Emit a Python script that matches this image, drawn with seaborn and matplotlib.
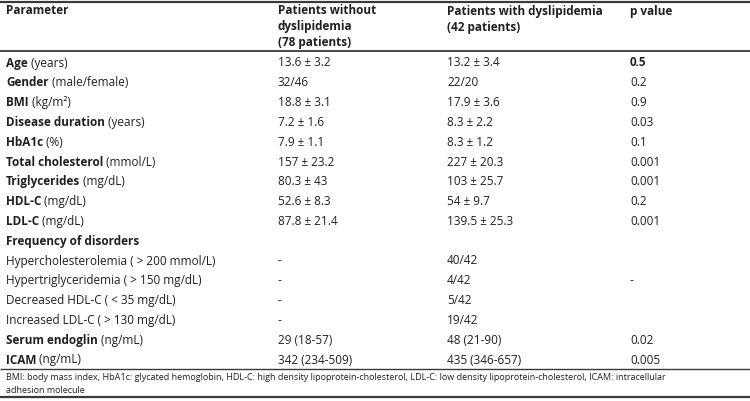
import matplotlib.pyplot as plt
import seaborn as sns

sns.set_style('white')
plt.rcParams['font.family'] = ['Open Sans', 'DejaVu Sans']

# table content
param_names = ['Age', 'Gender', 'BMI', 'Disease duration', 'HbA1c', 'Total cholesterol',
               'Triglycerides', 'HDL-C', 'LDL-C', 'Frequency of disorders',
               '', '', '', '', 'Serum endoglin', 'ICAM']
param_units = ['(years)', '(male/female)', '(kg/m²)', '(years)', '(%)', '(mmol/L)',
               '(mg/dL)', '(mg/dL)', '(mg/dL)', '',
               'Hypercholesterolemia ( > 200 mmol/L)', 'Hypertriglyceridemia ( > 150 mg/dL)',
               'Decreased HDL-C ( < 35 mg/dL)', 'Increased LDL-C ( > 130 mg/dL)',
               '(ng/mL)', '(ng/mL)']
without_dys = ['13.6 ± 3.2', '32/46', '18.8 ± 3.1', '7.2 ± 1.6', '7.9 ± 1.1', '157 ± 23.2',
               '80.3 ± 43', '52.6 ± 8.3', '87.8 ± 21.4', '', '-', '-', '-', '-',
               '29 (18-57)', '342 (234-509)']
with_dys = ['13.2 ± 3.4', '22/20', '17.9 ± 3.6', '8.3 ± 2.2', '8.3 ± 1.2', '227 ± 20.3',
            '103 ± 25.7', '54 ± 9.7', '139.5 ± 25.3', '', '40/42', '4/42', '5/42', '19/42',
            '48 (21-90)', '435 (346-657)']
p_values = ['0.5', '0.2', '0.9', '0.03', '0.1', '0.001', '0.001', '0.2', '0.001',
            '', '', '-', '', '', '0.02', '0.005']
headers = [['Parameter'], ['Patients without', 'dyslipidemia', '(78 patients)'],
           ['Patients with dyslipidemia', '(42 patients)'], ['p value']]
footnote = ('BMI: body mass index, HbA1c: glycated hemoglobin, HDL-C: high density '
            'lipoprotein-cholesterol, LDL-C: low density lipoprotein-cholesterol, ICAM: intracellular\n'
            'adhesion molecule')

txt = '#231f20'
col_x = [6, 278, 447, 630]
fs = 8.5

fig = plt.figure(figsize=(7.5, 4.01), dpi=100)
ax = fig.add_axes([0, 0, 1, 1])
ax.set_xlim(0, 750)
ax.set_ylim(401, 0)
ax.axis('off')

# rules
ax.hlines(1.5, 0, 750, color='#3a3a3a', lw=1.6)
ax.hlines(50.5, 0, 750, color='#3a3a3a', lw=1.3)
ax.hlines(368.5, 0, 750, color='#3a3a3a', lw=1.0)
ax.hlines(397, 0, 750, color='#3a3a3a', lw=1.6)

# header
header_y = {1: [11], 2: [11, 28], 3: [11, 26.5, 42.5]}
for x, lines in zip(col_x, headers):
    for y, line in zip(header_y[len(lines)], lines):
        ax.text(x, y, line, ha='left', va='center', fontsize=fs, fontweight='bold',
                color=txt)

# body rows
for i in range(len(param_names)):
    y = 63 + i * 19.8
    if param_names[i]:
        t = ax.text(col_x[0], y, param_names[i], ha='left', va='center', fontsize=fs,
                    fontweight='bold', color=txt)
        if param_units[i]:
            ax.annotate(' ' + param_units[i], xy=(1, 0.5), xycoords=t, ha='left',
                        va='center', fontsize=fs, color=txt)
    else:
        ax.text(col_x[0], y, param_units[i], ha='left', va='center', fontsize=fs, color=txt)
    ax.text(col_x[1], y, without_dys[i], ha='left', va='center', fontsize=fs, color=txt)
    ax.text(col_x[2], y, with_dys[i], ha='left', va='center', fontsize=fs, color=txt)
    ax.text(col_x[3], y, p_values[i], ha='left', va='center', fontsize=fs, color=txt,
            fontweight='bold' if i == 0 else 'normal')

ax.text(col_x[0], 373.5, footnote, ha='left', va='top', fontsize=6.5, color=txt,
        linespacing=1.45)

fig.savefig('out.png', dpi=100, facecolor='white')
